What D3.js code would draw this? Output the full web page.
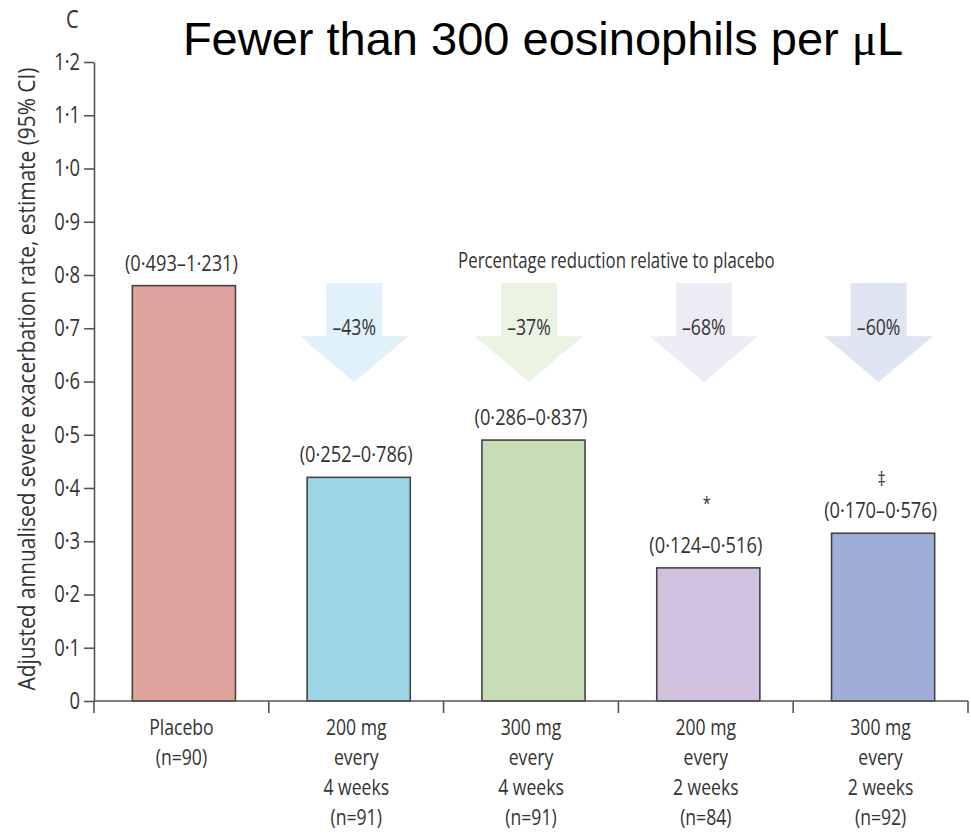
<!DOCTYPE html>
<html>
<head>
<meta charset="utf-8">
<script src="https://cdn.jsdelivr.net/npm/d3@7/dist/d3.min.js"></script>
<style>
  html, body { margin: 0; padding: 0; background: #fff; }
  svg { display: block; }
  .cond { font-family: "Open Sans", "Noto Sans", sans-serif; }
</style>
</head>
<body>
<svg id="chart" width="971" height="833"></svg>
<script>
// Treatment groups (x-axis labels, one line per entry)
const groups = ["placebo", "b200q4", "b300q4", "b200q2", "b300q2"];
const groupLabels = [
  ["Placebo", "(n=90)"],
  ["200 mg", "every", "4 weeks", "(n=91)"],
  ["300 mg", "every", "4 weeks", "(n=91)"],
  ["200 mg", "every", "2 weeks", "(n=84)"],
  ["300 mg", "every", "2 weeks", "(n=92)"]
];
// Adjusted annualised exacerbation rate estimates
const rates = [0.78, 0.42, 0.49, 0.25, 0.315];
// 95% CI labels shown above bars
const ciLabels = ["(0·493–1·231)", "(0·252–0·786)", "(0·286–0·837)", "(0·124–0·516)", "(0·170–0·576)"];
// Significance markers above the CI labels
const sigMarks = ["", "", "", "*", "‡"];
// Percentage reduction relative to placebo (null for placebo)
const reductions = [null, "–43%", "–37%", "–68%", "–60%"];
// Fill colours of bars and of the reduction arrows
const barColors = ["#e0a39e", "#9dd4e6", "#c6ddb5", "#d1c3e0", "#9eaed6"];
const arrowColors = [null, "#e1f1f9", "#ebf4e3", "#efebf5", "#dee4f1"];
// Y-axis ticks
const yTicks = [0, 0.1, 0.2, 0.3, 0.4, 0.5, 0.6, 0.7, 0.8, 0.9, 1.0, 1.1, 1.2];

// Horizontal squeeze giving the condensed lettering
const SX = 0.8;
const INK = "#333";

const svg = d3.select("#chart");
const fmt = d => d === 0 ? "0" : d.toFixed(1).replace(".", "·");

const x = d3.scaleBand().domain(groups).range([94, 968]);
const y = d3.scaleLinear().domain([0, 1.2]).range([701, 62]);
const bw = x.bandwidth();
const barW = bw * 0.59;

// Condensed text helper
function ctext(parent, px, py, str, size, anchor = "middle", extra = "", sx = SX) {
  return parent.append("text")
    .attr("class", "cond")
    .attr("transform", `translate(${px},${py}) ${extra} scale(${sx},1)`)
    .attr("text-anchor", anchor)
    .style("font-size", size + "px")
    .attr("fill", INK)
    .text(str);
}

// Title and panel letter
const title = svg.append("text")
  .attr("x", 543).attr("y", 55)
  .attr("text-anchor", "middle")
  .style("font-family", "'Liberation Sans', Arial, sans-serif")
  .style("font-size", "47px")
  .attr("fill", "#000");
title.append("tspan").text("Fewer than 300 eosinophils per ");
title.append("tspan").style("font-family", "'Liberation Serif', 'Times New Roman', serif").text("μ");
title.append("tspan").text("L");

ctext(svg, 66, 28, "C", 25, "start");

// Reduction arrows
const arrowG = svg.append("g");
groups.forEach((g, i) => {
  if (reductions[i] === null) return;
  const cx = x(g) + bw / 2 - 2;
  const sw = bw * 0.32 / 2, hw = bw * 0.62 / 2;
  const yTop = y(0.785), yHead = y(0.685), yTip = y(0.599);
  const pts = [
    [cx - sw, yTop], [cx + sw, yTop], [cx + sw, yHead], [cx + hw, yHead],
    [cx, yTip], [cx - hw, yHead], [cx - sw, yHead]
  ];
  arrowG.append("path")
    .attr("d", d3.line()(pts) + "Z")
    .attr("fill", arrowColors[i]);
  ctext(arrowG, cx, y(0.687), reductions[i], 22);
});

ctext(svg, (x(groups[1]) + x(groups[4]) + bw) / 2 - 2, 268,
  "Percentage reduction relative to placebo", 21);

// Bars
svg.append("g").selectAll("rect")
  .data(groups)
  .join("rect")
  .attr("x", (g) => x(g) + (bw - barW) / 2 + 2.5)
  .attr("width", barW)
  .attr("y", (g, i) => y(rates[i]))
  .attr("height", (g, i) => y(0) - y(rates[i]))
  .attr("fill", (g, i) => barColors[i])
  .attr("stroke", "#444")
  .attr("stroke-width", 1.6);

// CI labels and significance marks
const lab = svg.append("g");
groups.forEach((g, i) => {
  const cx = x(g) + bw / 2;
  ctext(lab, cx, y(rates[i]) - 15, ciLabels[i], 22, "middle", "", 0.83);
  if (sigMarks[i]) {
    const star = sigMarks[i] === "*";
    ctext(lab, cx + 1, y(rates[i]) - (star ? 58 : 47), sigMarks[i], star ? 18 : 20);
  }
});

// Y axis
const yAxis = svg.append("g")
  .attr("transform", "translate(94,0)")
  .call(d3.axisLeft(y).tickValues(yTicks).tickFormat(fmt).tickSize(10).tickSizeOuter(0).tickPadding(4));
yAxis.selectAll("path, line").attr("stroke", "#555").attr("stroke-width", 1.6);
yAxis.selectAll("text")
  .attr("class", "cond")
  .attr("x", 0)
  .attr("transform", `translate(-14,0) scale(${SX},1)`)
  .style("font-size", "23px")
  .attr("fill", INK);

// X axis line with ticks at group boundaries
const bounds = groups.map(g => x(g)).concat([x.range()[1]]);
const xAxis = svg.append("g").attr("stroke", "#555").attr("stroke-width", 1.6);
xAxis.append("line").attr("x1", 94).attr("x2", x.range()[1]).attr("y1", y(0)).attr("y2", y(0));
xAxis.selectAll("line.tick")
  .data(bounds)
  .join("line")
  .attr("class", "tick")
  .attr("x1", d => d).attr("x2", d => d)
  .attr("y1", y(0)).attr("y2", y(0) + 12);

// X labels
const xl = svg.append("g");
groups.forEach((g, i) => {
  groupLabels[i].forEach((line, j) => {
    ctext(xl, x(g) + bw / 2, 735 + j * 30, line, 22);
  });
});

// Y axis title
ctext(svg, 35, 379, "Adjusted annualised severe exacerbation rate, estimate (95% CI)", 24, "middle", "rotate(-90)", 0.87);
</script>
</body>
</html>
